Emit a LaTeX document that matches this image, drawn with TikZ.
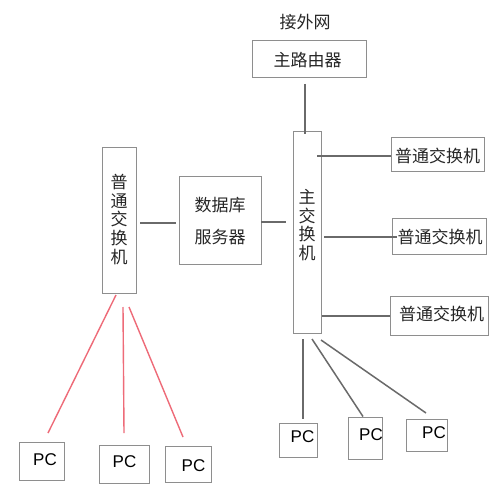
\documentclass[tikz,border=0pt]{standalone}
\usepackage{fontspec}
\setmainfont{Liberation Sans}
\newfontfamily\cjk{Noto Sans CJK SC}
\definecolor{boxc}{HTML}{8E8E8E}
\definecolor{linec}{HTML}{6A6A6A}
\definecolor{redc}{HTML}{EE6B78}
\begin{document}
\begin{tikzpicture}[x=1pt,y=-1pt,
  box/.style={draw=boxc,line width=0.9pt,inner sep=0pt,anchor=center},
  cn/.style={font=\cjk\fontsize{17}{19}\selectfont,inner sep=0pt,text=black!85},
  vt/.style={font=\cjk\fontsize{17}{18.7}\selectfont,inner sep=0pt,align=center,text=black!85},
  pct/.style={font=\fontsize{17}{20}\selectfont,inner sep=0pt,text=black},
  conn/.style={draw=linec,line width=1.5pt},
  rconn/.style={draw=redc,line width=1.4pt}]
\useasboundingbox (0,0) rectangle (500,500);
\fill[white] (0,0) rectangle (500,500);

% title
\node[cn] (t) at (305,22) {接外网};
% router
\node[box,minimum width=114pt,minimum height=37pt] (r) at (309,58.5) {};
\node[cn] (rt) at (307.5,60) {主路由器};
% main switch
\node[box,minimum width=28pt,minimum height=202pt] (ms) at (307,232) {};
\node[vt] (mst) at (307,225) {主\\交\\换\\机};
% left switch
\node[box,minimum width=34pt,minimum height=146pt] (ls) at (119,220) {};
\node[vt] (lst) at (119,219.5) {普\\通\\交\\换\\机};
% db server
\node[box,minimum width=82pt,minimum height=88pt] (db) at (220,220) {};
\node[cn,align=center,font=\cjk\fontsize{17}{32}\selectfont] (dbt) at (220,221) {数据库\\服务器};
% right switches
\node[box,minimum width=93pt,minimum height=34pt] (s1) at (437.5,154) {};
\node[cn] (s1t) at (437.5,156) {普通交换机};
\node[box,minimum width=94pt,minimum height=36pt] (s2) at (439,236) {};
\node[cn] (s2t) at (440,237) {普通交换机};
\node[box,minimum width=98pt,minimum height=39pt] (s3) at (439,315.5) {};
\node[cn] (s3t) at (441.5,314) {普通交换机};
% left PCs
\node[box,minimum width=45pt,minimum height=38pt] (p1) at (41.5,461) {};
\node[pct] (p1t) at (45,460) {PC};
\node[box,minimum width=50pt,minimum height=38pt] (p2) at (124,464) {};
\node[pct] (p2t) at (124.5,462) {PC};
\node[box,minimum width=46pt,minimum height=36pt] (p3) at (188,464) {};
\node[pct] (p3t) at (193.5,466) {PC};
% right PCs
\node[box,minimum width=38pt,minimum height=34pt] (p4) at (298,440) {};
\node[pct] (p4t) at (302.5,437) {PC};
\node[box,minimum width=34pt,minimum height=42pt] (p5) at (365,438) {};
\node[pct] (p5t) at (371,435) {PC};
\node[box,minimum width=41pt,minimum height=32pt] (p6) at (426.5,435) {};
\node[pct] (p6t) at (434,433) {PC};

% connector end points
\coordinate (ra) at (305,84);
\coordinate (rb) at (305,134);
\coordinate (la) at (140,223);
\coordinate (lb) at (176,223);
\coordinate (da) at (261,222);
\coordinate (db2) at (286,222);
\coordinate (m1) at (317,156);
\coordinate (m2) at (324,237);
\coordinate (e2) at (397,237);
\coordinate (m3) at (322,316);
\coordinate (b1) at (303,339);
\coordinate (c1) at (303,419);
\coordinate (b2) at (312,339);
\coordinate (b3) at (321,340);
\coordinate (c3) at (426,413);
\coordinate (l1) at (116,295);
\coordinate (d1) at (48,433);
\coordinate (l2) at (123,307);
\coordinate (d2) at (124,433);
\coordinate (l3) at (129,307);
\coordinate (d3) at (183,437);

\draw[conn] (ra) -- (rb);
\draw[conn] (la) -- (lb);
\draw[conn] (da) -- (db2);
\draw[conn] (m1) -- (m1 -| s1.west);
\draw[conn] (m2) -- (e2);
\draw[conn] (m3) -- (m3 -| s3.west);
\draw[conn] (b1) -- (c1);
\draw[conn] (b2) -- ([shift={(-2,0)}]p5.north);
\draw[conn] (b3) -- (c3);
\draw[rconn] (l1) -- (d1);
\draw[rconn] (l2) -- (d2);
\draw[rconn] (l3) -- (d3);
\end{tikzpicture}
\end{document}
